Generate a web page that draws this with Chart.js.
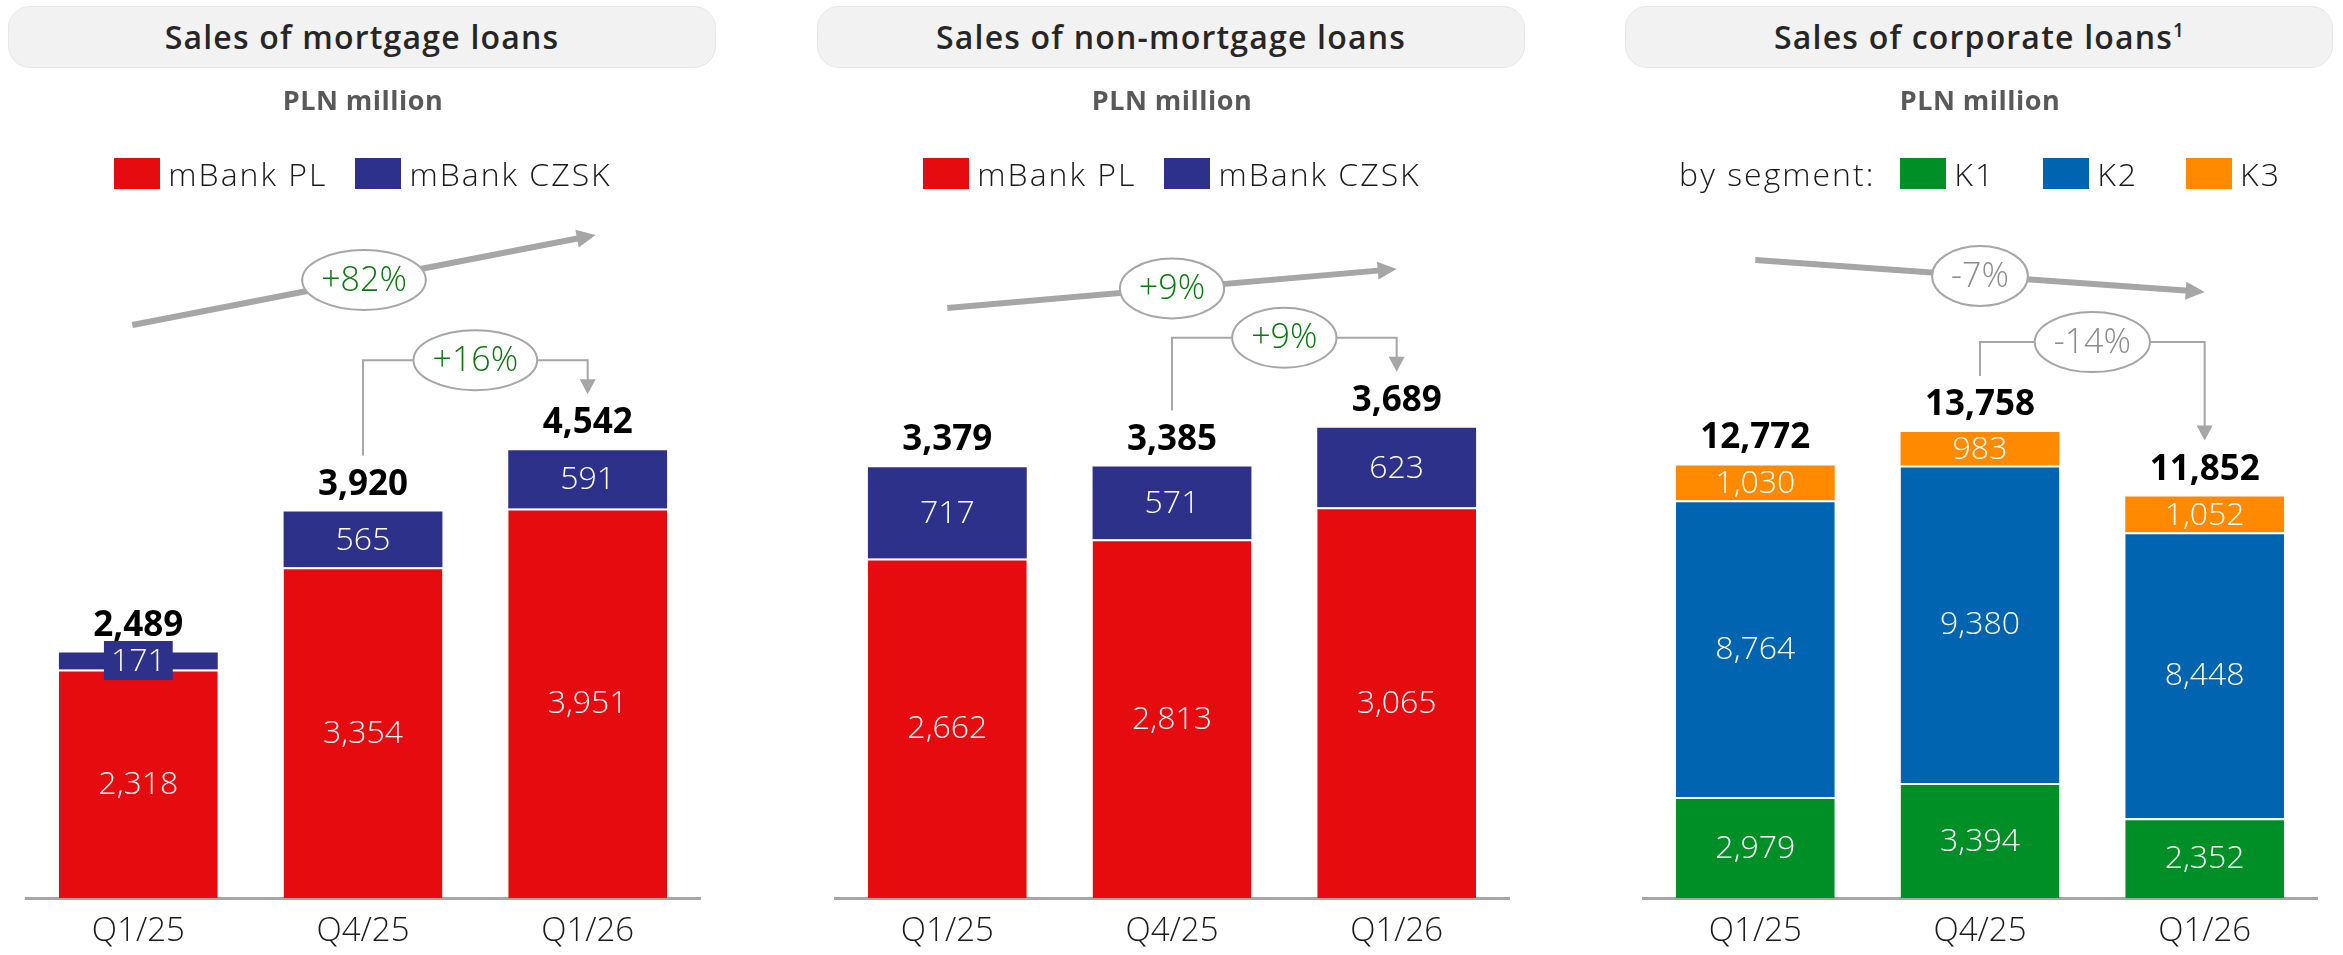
<!DOCTYPE html>
<html>
<head>
<meta charset="utf-8">
<script src="https://cdn.jsdelivr.net/npm/chart.js@4.4.1/dist/chart.umd.min.js"></script>
<style>
  body { margin:0; background:#fff; width:2343px; height:955px; overflow:hidden; position:relative; font-family:"Open Sans", sans-serif; }
  .panel { position:absolute; top:0; width:726px; height:955px; }
  .panel canvas { position:absolute; left:0; top:0; }
  .title { position:absolute; top:6px; left:8px; width:708px; height:62px; box-sizing:border-box; background:#f2f2f2; border:1px solid #e6e6e6; border-radius:22px; text-align:center; line-height:60px; font-size:32px; font-weight:600; color:#262626; letter-spacing:1.2px; }
  .title sup { font-size:19px; line-height:0; vertical-align:0; position:relative; top:-12px; letter-spacing:0; }
  .sub { position:absolute; top:84px; left:0; width:726px; text-align:center; font-size:27px; font-weight:700; color:#595959; line-height:32px; letter-spacing:0.5px; }
  .legend { position:absolute; top:157px; left:0; width:726px; height:32px; display:flex; justify-content:center; align-items:center; font-size:32px; font-weight:300; color:#1a1a1a; letter-spacing:2px; }
  .legend .item { display:flex; align-items:center; }
  .legend .box { width:46px; height:31px; margin-right:8px; }
</style>
</head>
<body>
<script>
const quarters = ['Q1/25', 'Q4/25', 'Q1/26'];

const mortgagePL = [2318, 3354, 3951];
const mortgageCZSK = [171, 565, 591];
const mortgageTotal = [2489, 3920, 4542];

const nonMortgagePL = [2662, 2813, 3065];
const nonMortgageCZSK = [717, 571, 623];
const nonMortgageTotal = [3379, 3385, 3689];

const corpK1 = [2979, 3394, 2352];
const corpK2 = [8764, 9380, 8448];
const corpK3 = [1030, 983, 1052];
const corpTotal = [12772, 13758, 11852];

// Q1/26 vs Q1/25 and Q1/26 vs Q4/25
const changeYoY = ['+82%', '+9%', '-7%'];
const changeQoQ = ['+16%', '+9%', '-14%'];

const RED = '#e60b0e', NAVY = '#2e3189', GREEN = '#008f27', BLUE = '#0064b0', ORANGE = '#ff8a00';
const UP = '#0c770f', DOWN = '#8c8c8c', ARROW = '#a6a6a6';
const FONT = '"Open Sans", sans-serif';

const fmt = v => v.toLocaleString('en-US');

function arrowHead(ctx, x0, y0, x1, y1, len, half) {
  const a = Math.atan2(y1 - y0, x1 - x0);
  const bx = x1 - len * Math.cos(a), by = y1 - len * Math.sin(a);
  ctx.beginPath();
  ctx.moveTo(x1, y1);
  ctx.lineTo(bx + half * Math.sin(a), by - half * Math.cos(a));
  ctx.lineTo(bx - half * Math.sin(a), by + half * Math.cos(a));
  ctx.closePath();
  ctx.fill();
}

function bubble(ctx, cx, cy, text, color) {
  ctx.font = '300 34px ' + FONT;
  const w = ctx.measureText(text).width;
  ctx.beginPath();
  ctx.ellipse(cx, cy, w / 2 + 19, 30, 0, 0, Math.PI * 2);
  ctx.fillStyle = '#fff';
  ctx.fill();
  ctx.lineWidth = 2;
  ctx.strokeStyle = ARROW;
  ctx.stroke();
  ctx.fillStyle = color;
  ctx.textAlign = 'center';
  ctx.textBaseline = 'middle';
  ctx.fillText(text, cx, cy + 1);
}

const barLabels = {
  id: 'barLabels',
  afterDatasetsDraw(chart, args, opts) {
    const ctx = chart.ctx;
    const xs = chart.scales.x;
    const n = chart.data.datasets.length;
    const topMeta = chart.getDatasetMeta(n - 1);
    ctx.save();

    // values inside the segments
    chart.data.datasets.forEach((ds, d) => {
      chart.getDatasetMeta(d).data.forEach((bar, i) => {
        const p = bar.getProps(['x', 'y', 'base'], true);
        const cy = (p.y + p.base) / 2;
        const txt = fmt(ds.data[i]);
        ctx.font = '300 32px ' + FONT;
        ctx.textAlign = 'center';
        ctx.textBaseline = 'middle';
        if (p.base - p.y < 25) {
          const w = ctx.measureText(txt).width + 14;
          ctx.fillStyle = ds.backgroundColor;
          ctx.fillRect(p.x - w / 2, cy - 20, w, 39);
        }
        ctx.fillStyle = '#fff';
        ctx.fillText(txt, p.x, cy + 1);
      });
    });

    // totals above the stacks
    ctx.font = '700 35px ' + FONT;
    ctx.fillStyle = '#000';
    topMeta.data.forEach((bar, i) => {
      ctx.fillText(fmt(opts.totals[i]), bar.x, bar.y - 27);
    });

    const tops = topMeta.data.map(b => b.y);
    ctx.strokeStyle = ARROW;
    ctx.fillStyle = ARROW;

    // long trend arrow first quarter -> last quarter
    const t = opts.trend;
    const x0 = xs.getPixelForValue(0) + t.dx0, x1 = xs.getPixelForValue(2) + t.dx1;
    const a = Math.atan2(t.y1 - t.y0, x1 - x0);
    ctx.lineWidth = 6;
    ctx.beginPath();
    ctx.moveTo(x0, t.y0);
    ctx.lineTo(x1 - 16 * Math.cos(a), t.y1 - 16 * Math.sin(a));
    ctx.stroke();
    arrowHead(ctx, x0, t.y0, x1, t.y1, 19, 9);
    bubble(ctx, (x0 + x1) / 2, (t.y0 + t.y1) / 2, t.text, t.color);

    // elbow arrow previous quarter -> last quarter
    const b = opts.bracket;
    const bx1 = xs.getPixelForValue(1), bx2 = xs.getPixelForValue(2);
    const yh = Math.min(tops[1], tops[2]) - 90;
    const tip = tops[2] - 56;
    ctx.fillStyle = ARROW;
    ctx.lineWidth = 2;
    ctx.beginPath();
    ctx.moveTo(bx1, tops[1] - 56);
    ctx.lineTo(bx1, yh);
    ctx.lineTo(bx2, yh);
    ctx.lineTo(bx2, tip - 12);
    ctx.stroke();
    arrowHead(ctx, bx2, yh, bx2, tip, 15, 8);
    bubble(ctx, (bx1 + bx2) / 2, yh, b.text, b.color);

    ctx.restore();
  }
};

function panel(left, cfg) {
  const div = document.createElement('div');
  div.className = 'panel';
  div.style.left = left + 'px';
  let legendHtml = cfg.lead ? '<span style="margin-right:25px">' + cfg.lead + '</span>' : '';
  cfg.series.forEach((s, i) => {
    legendHtml += '<span class="item" style="margin-left:' + (i ? cfg.gap : 0) + 'px"><span class="box" style="background:' + s.color + '"></span>' + s.name + '</span>';
  });
  div.innerHTML = '<canvas width="726" height="955"></canvas>' +
    '<div class="title">' + cfg.title + '</div>' +
    '<div class="sub">PLN million</div>' +
    '<div class="legend">' + legendHtml + '</div>';
  document.body.appendChild(div);

  const last = cfg.series.length - 1;
  new Chart(div.querySelector('canvas'), {
    type: 'bar',
    data: {
      labels: quarters,
      datasets: cfg.series.map((s, i) => ({
        label: s.name,
        data: s.values,
        backgroundColor: s.color,
        borderColor: '#fff',
        borderWidth: i < last ? { top: 2, left: 0, right: 0, bottom: 0 } : 0,
        barPercentage: 0.707,
        categoryPercentage: 1
      }))
    },
    options: {
      responsive: false,
      animation: false,
      devicePixelRatio: 1,
      layout: { padding: { top: cfg.padTop, left: 26, right: 26, bottom: 0 } },
      plugins: {
        legend: { display: false },
        tooltip: { enabled: false },
        barLabels: { totals: cfg.totals, trend: cfg.trend, bracket: cfg.bracket }
      },
      scales: {
        x: {
          stacked: true,
          grid: { display: false, drawTicks: false },
          border: { display: true, color: ARROW, width: 3 },
          ticks: { padding: 14, color: '#1a1a1a', font: { family: FONT, size: 33, weight: 300 } },
          afterFit: s => { s.height = 57; }
        },
        y: { stacked: true, display: false, min: 0, max: cfg.yMax }
      }
    },
    plugins: [barLabels]
  });
}

panel(0, {
  title: 'Sales of mortgage loans',
  series: [
    { name: 'mBank PL', values: mortgagePL, color: RED },
    { name: 'mBank CZSK', values: mortgageCZSK, color: NAVY }
  ],
  gap: 28,
  totals: mortgageTotal,
  yMax: 5000, padTop: 405,
  trend: { text: changeYoY[0], color: UP, y0: 325, y1: 235, dx0: -6, dx1: 8 },
  bracket: { text: changeQoQ[0], color: UP }
});

panel(809, {
  title: 'Sales of non-mortgage loans',
  series: [
    { name: 'mBank PL', values: nonMortgagePL, color: RED },
    { name: 'mBank CZSK', values: nonMortgageCZSK, color: NAVY }
  ],
  gap: 28,
  totals: nonMortgageTotal,
  yMax: 4000, padTop: 388,
  trend: { text: changeYoY[1], color: UP, y0: 308, y1: 269, dx0: 0, dx1: 0 },
  bracket: { text: changeQoQ[1], color: UP }
});

panel(1617, {
  title: 'Sales of corporate loans<sup>1</sup>',
  lead: 'by segment:',
  series: [
    { name: 'K1', values: corpK1, color: GREEN },
    { name: 'K2', values: corpK2, color: BLUE },
    { name: 'K3', values: corpK3, color: ORANGE }
  ],
  gap: 48,
  totals: corpTotal,
  yMax: 15000, padTop: 390,
  trend: { text: changeYoY[2], color: DOWN, y0: 260, y1: 292, dx0: 0, dx1: 0 },
  bracket: { text: changeQoQ[2], color: DOWN }
});
</script>
</body>
</html>
